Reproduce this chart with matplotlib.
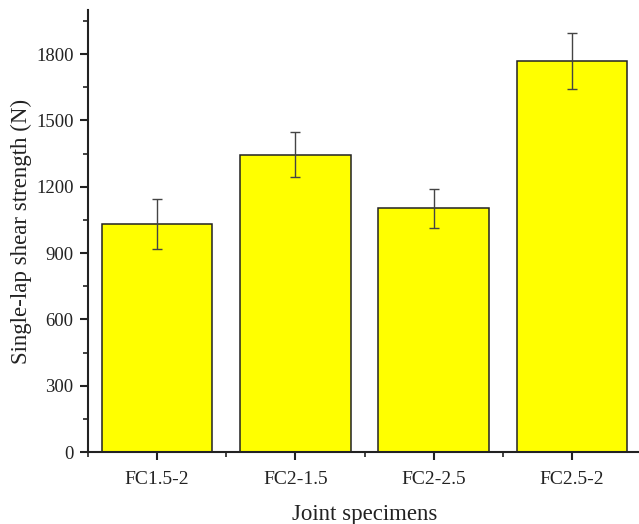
import numpy as np
import matplotlib.pyplot as plt
from matplotlib.ticker import MultipleLocator

plt.rcParams['font.family'] = ['Liberation Serif', 'DejaVu Serif']

specimens = ["FC1.5-2", "FC2-1.5", "FC2-2.5", "FC2.5-2"]
strength = [1030, 1345, 1102, 1770]
err = [113, 101, 88, 127]

fig = plt.figure(figsize=(6.39, 5.24), dpi=100)
ax = fig.add_axes([0.1377, 0.1374, 0.8655, 0.8436])

x = np.arange(len(specimens))
ax.bar(x, strength, width=0.8, color='#ffff00', edgecolor='#222222', linewidth=1.1)
ax.errorbar(x, strength, yerr=err, fmt='none', ecolor='#444444', elinewidth=1,
            capsize=3.3, capthick=1)

ax.set_xlim(-0.5, 3.5)
ax.set_ylim(0, 2000)
ax.set_xticks(x)
ax.set_xticklabels(specimens)
ax.set_xticks(np.arange(-0.5, 3.6, 1), minor=True)
ax.yaxis.set_major_locator(MultipleLocator(300))
ax.yaxis.set_minor_locator(MultipleLocator(150))

for s in ['top', 'right']:
    ax.spines[s].set_visible(False)
for s in ['left', 'bottom']:
    ax.spines[s].set_linewidth(1.5)
    ax.spines[s].set_color('#222222')

ax.tick_params(which='major', direction='out', length=6, width=1.5, labelsize=13.5, colors='#222222')
ax.tick_params(which='minor', direction='out', length=3.5, width=1.2, colors='#222222')
ax.tick_params(axis='x', which='major', pad=7.5, labelsize=14)
ax.tick_params(axis='y', which='major', pad=4.5)

ax.set_ylabel("Single-lap shear strength (N)", fontsize=16.5, color='#222222', labelpad=3)
ax.set_xlabel("Joint specimens", fontsize=16.5, color='#222222', labelpad=12)

fig.savefig("out.png", dpi=100)
